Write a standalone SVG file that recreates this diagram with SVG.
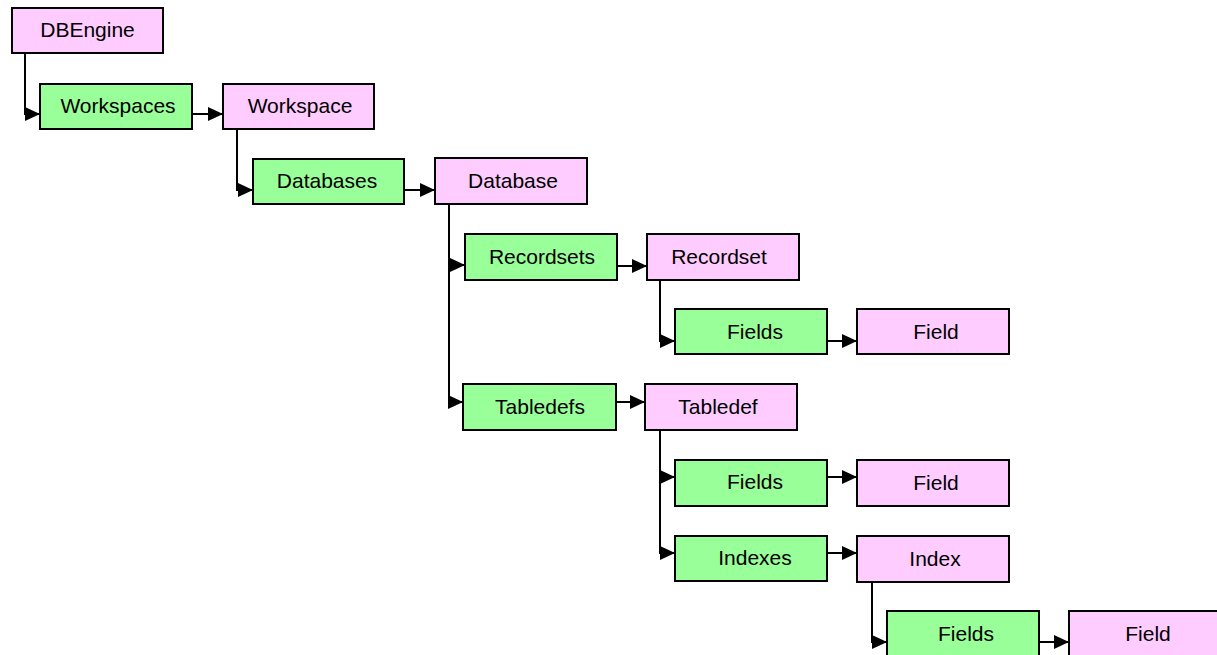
<svg xmlns="http://www.w3.org/2000/svg" width="1217" height="655" viewBox="0 0 1217 655">
<style>
.obj{fill:#FFCCFF;stroke:#000;stroke-width:2}
.col{fill:#99FF99;stroke:#000;stroke-width:2}
text{font-family:"Liberation Sans",Arial,sans-serif;font-size:21px;fill:#000;text-anchor:middle}
.c{fill:none;stroke:#000;stroke-width:2}
</style>
<defs>
<marker id="ah" markerUnits="userSpaceOnUse" markerWidth="16" markerHeight="14" refX="15" refY="7" orient="auto" viewBox="0 0 16 14">
<path d="M0,0 L15,7 L0,14 z" fill="#000"/>
</marker>
</defs>
<rect width="1217" height="655" fill="#fff"/>
<g id="connectors" class="conn">
<path class="c" d="M25,53 V114 H40" marker-end="url(#ah)"/>
<path class="c" d="M192,114 H223" marker-end="url(#ah)"/>
<path class="c" d="M237,129 V190 H253" marker-end="url(#ah)"/>
<path class="c" d="M404,190 H435" marker-end="url(#ah)"/>
<path class="c" d="M449,204 V265 H465" marker-end="url(#ah)"/>
<path class="c" d="M449,204 V402 H463" marker-end="url(#ah)"/>
<path class="c" d="M616,266 H647" marker-end="url(#ah)"/>
<path class="c" d="M660,280 V341 H675" marker-end="url(#ah)"/>
<path class="c" d="M827,341 H857" marker-end="url(#ah)"/>
<path class="c" d="M616,402 H645" marker-end="url(#ah)"/>
<path class="c" d="M660,430 V477 H675" marker-end="url(#ah)"/>
<path class="c" d="M660,430 V553 H675" marker-end="url(#ah)"/>
<path class="c" d="M827,477 H857" marker-end="url(#ah)"/>
<path class="c" d="M827,553 H857" marker-end="url(#ah)"/>
<path class="c" d="M872,582 V642 H887" marker-end="url(#ah)"/>
<path class="c" d="M1039,642 H1069" marker-end="url(#ah)"/>
</g>
<g id="dbengine"><rect class="obj" x="12" y="8" width="151" height="45"/><text x="87.5" y="37">DBEngine</text></g>
<g id="workspaces"><rect class="col" x="40" y="84" width="152" height="45"/><text x="118" y="113">Workspaces</text></g>
<g id="workspace"><rect class="obj" x="223" y="84" width="151" height="45"/><text x="300" y="113">Workspace</text></g>
<g id="databases"><rect class="col" x="253" y="159" width="151" height="45"/><text x="327" y="188">Databases</text></g>
<g id="database"><rect class="obj" x="435" y="158" width="152" height="46"/><text x="513" y="188">Database</text></g>
<g id="recordsets"><rect class="col" x="465" y="234" width="152" height="46"/><text x="542" y="264">Recordsets</text></g>
<g id="recordset"><rect class="obj" x="647" y="234" width="152" height="46"/><text x="719" y="264">Recordset</text></g>
<g id="fields1"><rect class="col" x="675" y="309" width="152" height="45"/><text x="755" y="339">Fields</text></g>
<g id="field1"><rect class="obj" x="857" y="309" width="152" height="45"/><text x="936" y="339">Field</text></g>
<g id="tabledefs"><rect class="col" x="463" y="384" width="153" height="46"/><text x="540" y="414">Tabledefs</text></g>
<g id="tabledef"><rect class="obj" x="645" y="384" width="152" height="46"/><text x="718" y="414">Tabledef</text></g>
<g id="fields2"><rect class="col" x="675" y="460" width="152" height="46"/><text x="755" y="489">Fields</text></g>
<g id="field2"><rect class="obj" x="857" y="460" width="152" height="46"/><text x="936" y="490">Field</text></g>
<g id="indexes"><rect class="col" x="675" y="536" width="152" height="45"/><text x="755" y="565">Indexes</text></g>
<g id="index"><rect class="obj" x="857" y="536" width="152" height="46"/><text x="935" y="566">Index</text></g>
<g id="fields3"><rect class="col" x="887" y="611" width="152" height="46"/><text x="966" y="641">Fields</text></g>
<g id="field3"><rect class="obj" x="1069" y="611" width="152" height="46"/><text x="1148" y="641">Field</text></g>
</svg>
